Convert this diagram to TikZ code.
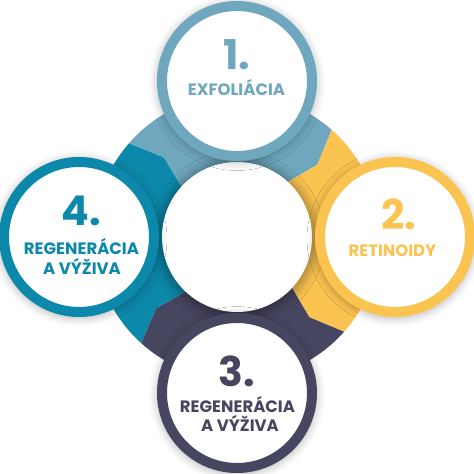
\documentclass[tikz,border=0pt]{standalone}
\usepackage{fontspec}
\setmainfont{Poppins}
\usetikzlibrary{shadows.blur}
\definecolor{cone}{HTML}{6FA8BE}
\definecolor{ctwo}{HTML}{FBC350}
\definecolor{cthree}{HTML}{474660}
\definecolor{cfour}{HTML}{0C88AA}
\begin{document}
\begin{tikzpicture}[x=1pt,y=1pt,
  softshadow/.style={blur shadow={shadow xshift=0pt, shadow yshift=-1.5pt, shadow scale=1.06, shadow blur radius=8pt, shadow opacity=30}},
  stepcircle/.style={circle, draw=#1, line width=10pt, fill=white, minimum size=150pt, inner sep=0pt, softshadow},
  numtxt/.style={font=\bfseries\fontsize{41}{41}\selectfont, text=#1, anchor=base, inner sep=0pt},
  labtxt/.style={font=\bfseries\fontsize{16.5}{20}\selectfont, text=#1, anchor=base, inner sep=0pt}]
\useasboundingbox (0,0) rectangle (474,474);
\begin{scope}[shift={(237,237)}]
  % segment 4 (left)
  \fill[cfour] (228:143) arc[start angle=228,end angle=139,radius=143] -- (132.5:108) -- (139:70) arc[start angle=139,end angle=228,radius=70] -- (221.5:108) -- cycle;
  % segment 1 (top)
  \fill[cone] (139:143) arc[start angle=139,end angle=48.5,radius=143] -- (42:108) -- (48.5:70) arc[start angle=48.5,end angle=139,radius=70] -- (132.5:108) -- cycle;
  % segment 2 (right)
  \fill[ctwo] (48.5:143) arc[start angle=48.5,end angle=-41.5,radius=143] -- (-48:108) -- (-41.5:70) arc[start angle=-41.5,end angle=48.5,radius=70] -- (42:108) -- cycle;
  % segment 3 (bottom)
  \fill[cthree] (-41.5:143) arc[start angle=-41.5,end angle=-132,radius=143] -- (-138.5:108) -- (-132:70) arc[start angle=-132,end angle=-41.5,radius=70] -- (-48:108) -- cycle;
\end{scope}
\node[circle, fill=white, minimum size=150pt, inner sep=0pt, softshadow] (center) at (237,237) {};
\node[stepcircle=cone] (c1) at (237,393) {};
\node[stepcircle=ctwo] (c2) at (395,237) {};
\node[stepcircle=cthree] (c3) at (237,81) {};
\node[stepcircle=cfour] (c4) at (79,237) {};
% texts
\node[numtxt=cone] (n1) at (236.5,404.5) {1.};
\node[labtxt=cone] (l1) at (236.5,378) {EXFOLIÁCIA};
\node[numtxt=ctwo] (n2) at (398.5,244) {2.};
\node[labtxt=ctwo] (l2) at (392.5,217) {RETINOIDY};
\node[numtxt=cthree] (n3) at (236.5,87) {3.};
\node[labtxt=cthree] (l3a) at (237.5,61) {REGENERÁCIA};
\node[labtxt=cthree] (l3b) at (240,42) {A VÝŽIVA};
\node[numtxt=cfour] (n4) at (81.5,248) {4.};
\node[labtxt=cfour] (l4a) at (81.5,219) {REGENERÁCIA};
\node[labtxt=cfour] (l4b) at (82,199) {A VÝŽIVA};
\end{tikzpicture}
\end{document}
